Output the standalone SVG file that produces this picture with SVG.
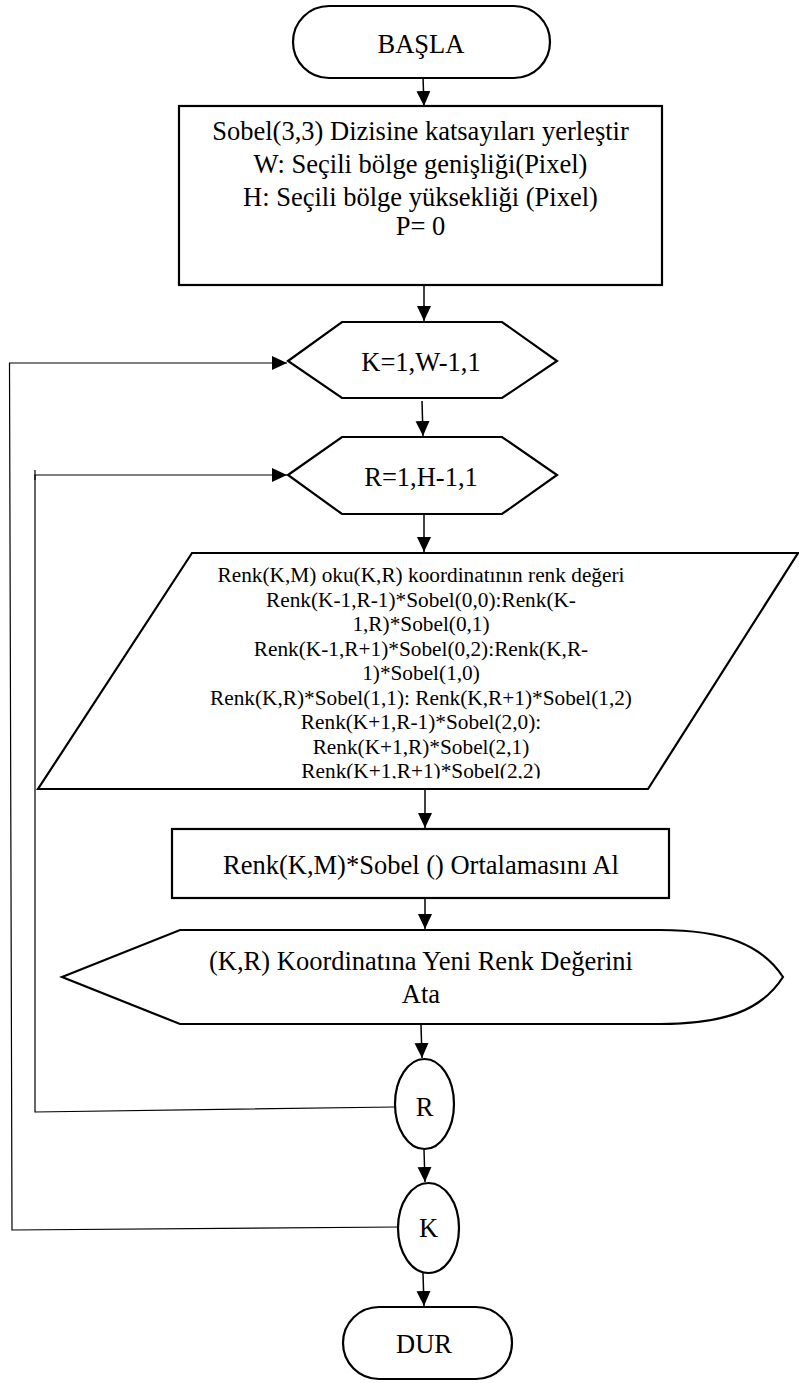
<svg xmlns="http://www.w3.org/2000/svg" width="799" height="1383" viewBox="0 0 799 1383">
<style>
.s{fill:#fff;stroke:#000;stroke-width:2.2}
.t{font-size:26.5px;fill:#000;text-anchor:middle}
.ts{font-size:21.3px;fill:#000;text-anchor:middle}
.c{fill:none;stroke:#000;stroke-width:1.5}
.l{fill:none;stroke:#000;stroke-width:1.2}
</style>
<defs>
<marker id="ah" markerUnits="userSpaceOnUse" markerWidth="16" markerHeight="16" refX="15" refY="7" orient="auto">
<path d="M0,0 L15,7 L0,14 z" fill="#000"/>
</marker>
<clipPath id="clipPar"><rect x="0" y="540" width="799" height="238.5"/></clipPath>
</defs>
<g id="connectors">
<path class="c" d="M423,77 L424,106" marker-end="url(#ah)"/>
<path class="c" d="M424,286 L424,321" marker-end="url(#ah)"/>
<path class="c" d="M422,401 L423,436" marker-end="url(#ah)"/>
<path class="c" d="M424,515 L424,552" marker-end="url(#ah)"/>
<path class="c" d="M425,790 L425,828" marker-end="url(#ah)"/>
<path class="c" d="M425,899 L425,929" marker-end="url(#ah)"/>
<path class="c" d="M421,1025 L422,1058" marker-end="url(#ah)"/>
<path class="c" d="M424,1150 L425,1182" marker-end="url(#ah)"/>
<path class="c" d="M423,1273 L424,1306" marker-end="url(#ah)"/>
<path class="l" d="M395,1107 L35,1112 L35,475 L287,475" marker-end="url(#ah)"/>
<path class="l" d="M398,1227 L12,1230 L9.5,363 L287,363" marker-end="url(#ah)"/>
<path class="l" d="M35,470 L35,480"/>
</g>
<g font-family="Liberation Serif, Times New Roman, serif">
<g id="start">
<rect class="s" x="293" y="6" width="257" height="72" rx="36"/>
<text class="t" x="421" y="53">BAŞLA</text>
</g>
<g id="init">
<rect class="s" x="179" y="106" width="483" height="179"/>
<text class="t" x="420.5" y="140">Sobel(3,3) Dizisine katsayıları yerleştir</text>
<text class="t" x="420.5" y="173">W: Seçili bölge genişliği(Pixel)</text>
<text class="t" x="420.5" y="206">H: Seçili bölge yüksekliği (Pixel)</text>
<text class="t" x="420.5" y="235">P= 0</text>
</g>
<g id="loopK">
<polygon class="s" points="288,361 342,322 502,322 557,361 502,398 342,398"/>
<text class="t" x="421" y="371">K=1,W-1,1</text>
</g>
<g id="loopR">
<polygon class="s" points="288,475 342,437 502,437 557,475 502,514 342,514"/>
<text class="t" x="421" y="486">R=1,H-1,1</text>
</g>
<g id="read">
<polygon class="s" points="192,553 798,553 648,789 38,789"/>
<g clip-path="url(#clipPar)">
<text class="ts" x="421" y="582">Renk(K,M) oku(K,R) koordinatının renk değeri</text>
<text class="ts" x="421" y="606.5">Renk(K-1,R-1)*Sobel(0,0):Renk(K-</text>
<text class="ts" x="421" y="631">1,R)*Sobel(0,1)</text>
<text class="ts" x="421" y="655.5">Renk(K-1,R+1)*Sobel(0,2):Renk(K,R-</text>
<text class="ts" x="421" y="680">1)*Sobel(1,0)</text>
<text class="ts" x="421" y="704.5">Renk(K,R)*Sobel(1,1): Renk(K,R+1)*Sobel(1,2)</text>
<text class="ts" x="421" y="729">Renk(K+1,R-1)*Sobel(2,0):</text>
<text class="ts" x="421" y="753.5">Renk(K+1,R)*Sobel(2,1)</text>
<text class="ts" x="421" y="778">Renk(K+1,R+1)*Sobel(2,2)</text>
</g>
</g>
<g id="average">
<rect class="s" x="172" y="829" width="497" height="69"/>
<text class="t" x="421" y="874">Renk(K,M)*Sobel () Ortalamasını Al</text>
</g>
<g id="display">
<path class="s" d="M62,977 L180,930 L660,930 C725,930 762,945 783,977 C762,1010 725,1024 660,1024 L180,1024 Z"/>
<text class="t" x="421" y="970">(K,R) Koordinatına Yeni Renk Değerini</text>
<text class="t" x="421" y="1003">Ata</text>
</g>
<g id="nextR">
<ellipse class="s" cx="424.5" cy="1104" rx="29.5" ry="45"/>
<text class="t" x="424.5" y="1116">R</text>
</g>
<g id="nextK">
<ellipse class="s" cx="428.5" cy="1228" rx="30.5" ry="45"/>
<text class="t" x="428.5" y="1237">K</text>
</g>
<g id="end">
<rect class="s" x="343" y="1307" width="169" height="72" rx="36"/>
<text class="t" x="424" y="1353">DUR</text>
</g>
</g>
</svg>
